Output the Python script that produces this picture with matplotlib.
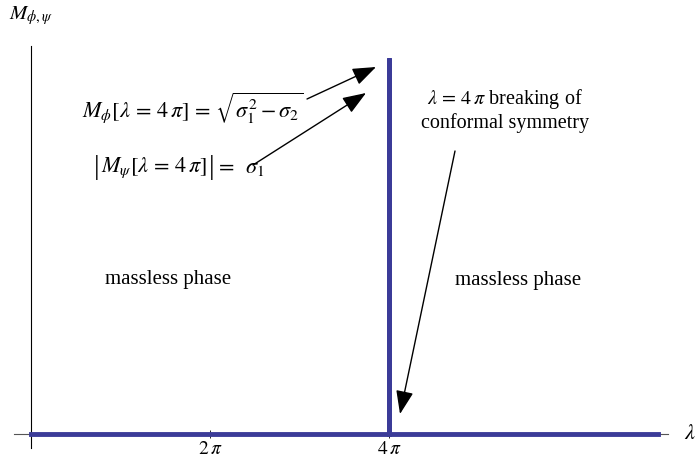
import numpy as np
import matplotlib.pyplot as plt

plt.rcParams["font.family"] = ["Liberation Serif", "DejaVu Serif"]
plt.rcParams["mathtext.fontset"] = "stix"

# data: mass as function of coupling lambda (in units of pi)
lam = np.array([0.0, 4.0, 4.0, 4.0, 7.0]) * np.pi
mass = np.array([0.0, 0.0, 0.97, 0.0, 0.0])
tick_pos = [2 * np.pi, 4 * np.pi]
tick_labels = [r"$2\,\pi$", r"$4\,\pi$"]

px = 2 * np.pi / 179.0   # data units per pixel along x
py = 1.0 / 388.0         # data units per pixel along y


def X(p):
    return (p - 31) * px


def Y(p):
    return (434 - p) * py


fig = plt.figure(figsize=(6.98, 4.61), dpi=100)
ax = fig.add_axes([0, 0, 1, 1])
ax.set_xlim(X(0), X(698))
ax.set_ylim(Y(461), Y(0))

# axes through the origin
for s in ["top", "right"]:
    ax.spines[s].set_visible(False)
ax.spines["left"].set_position(("data", 0))
ax.spines["bottom"].set_position(("data", 0))
ax.spines["left"].set_bounds(Y(448), Y(46))
ax.spines["bottom"].set_bounds(X(14), X(668))
ax.spines["left"].set_linewidth(0.8)
ax.spines["bottom"].set_linewidth(0.8)
ax.spines["bottom"].set_color("#555555")
ax.set_yticks([])
ax.set_xticks(tick_pos)
ax.set_xticklabels(tick_labels, fontsize=14)
ax.tick_params(axis="x", direction="inout", length=6, width=0.6, pad=2)

ax.plot(lam, mass, color="#3b3b98", lw=3.5, solid_joinstyle="miter", zorder=3)

ax.text(X(31), Y(16), r"$M_{\phi,\psi}$", fontsize=15, ha="center", va="center")
ax.text(X(690), Y(434), r"$\lambda$", fontsize=16, ha="center", va="center")

ax.text(X(193), Y(108),
        r"$M_\phi[\lambda\,=\,4\,\pi]\,=\,\sqrt{\sigma_1^2-\sigma_2}$",
        fontsize=16, ha="center", va="center")
# |M_psi[...]| = sigma_1 with tall absolute-value bars
ax.text(X(97), Y(167), "|", fontsize=20, ha="center", va="center")
ax.text(X(101), Y(168), r"$M_\psi[\lambda\,=\,4\,\pi]$",
        fontsize=16, ha="left", va="center")
ax.text(X(212), Y(167), "|", fontsize=20, ha="center", va="center")
ax.text(X(215), Y(168), r"$=\;\;\sigma_1$",
        fontsize=16, ha="left", va="center")
ax.text(X(505), Y(110), "$\\lambda\\,=\\,4\\,\\pi$ breaking of\nconformal symmetry",
        fontsize=14.5, ha="center", va="center", linespacing=1.2)
ax.text(X(168), Y(279), "massless phase", fontsize=15, ha="center", va="center")
ax.text(X(518), Y(280), "massless phase", fontsize=15, ha="center", va="center")

arrow = dict(arrowstyle="-|>,head_length=0.8,head_width=0.3", color="black",
             lw=1.0, mutation_scale=18, shrinkA=0, shrinkB=0)
ax.annotate("", xy=(X(376), Y(67)), xytext=(X(307), Y(99)), arrowprops=arrow)
ax.annotate("", xy=(X(366), Y(93)), xytext=(X(253), Y(165)), arrowprops=arrow)
ax.annotate("", xy=(X(400), Y(414)), xytext=(X(455), Y(151)), arrowprops=arrow)

plt.savefig("out.png", dpi=100)
